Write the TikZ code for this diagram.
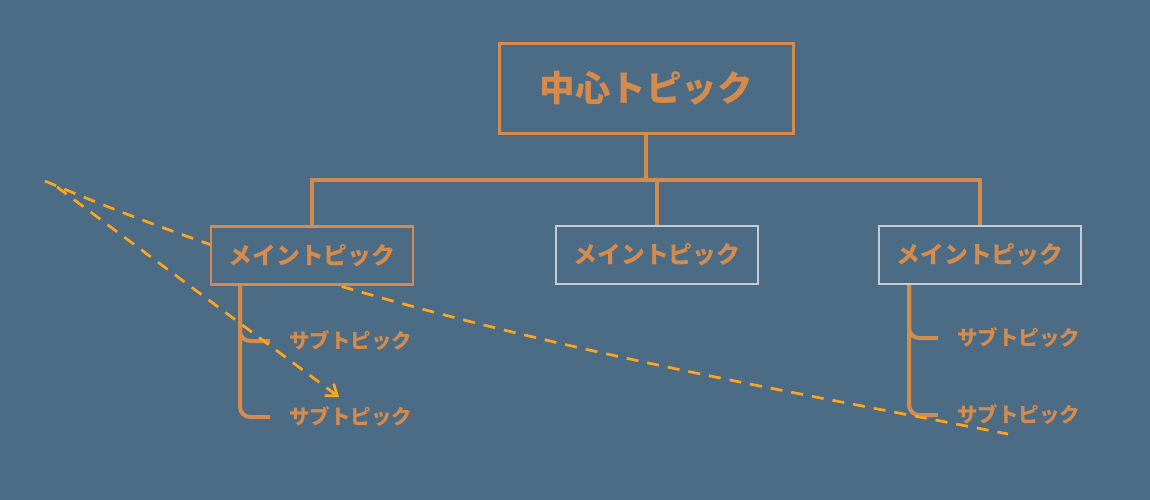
\documentclass[tikz,border=0pt]{standalone}
\usepackage{fontspec}
\newfontfamily\jpfont{Noto Sans CJK JP}
\usetikzlibrary{arrows.meta}

\begin{document}
\begin{tikzpicture}[x=1pt,y=-1pt]

  \definecolor{bgcol}{RGB}{76,107,133}
  \definecolor{topcol}{RGB}{213,139,76}
  \definecolor{dshcol}{RGB}{255,166,28}
  \definecolor{grycol}{RGB}{198,204,210}

 \useasboundingbox (0,0) rectangle (1150,500);
 \fill[bgcol] (0,0) rectangle (1150,500);

 \coordinate (p0) at (646,88.5);
 \coordinate (p1) at (312,255.5);
 \coordinate (p2) at (657,255);
 \coordinate (p3) at (980,255);
 \coordinate (hub) at (646,180);

 % free ends of the dashed lines
 \coordinate (d0) at (45,181);
 \coordinate (d1) at (1008,434);
 \coordinate (a0) at (57,187);
 \coordinate (a1) at (339,397);

 \tikzset{
      ctrstl/.style={draw=topcol,line width=3,fill=bgcol,text=topcol,
        minimum width=294,minimum height=89,
        font=\jpfont\bfseries\fontsize{35.5}{42}\selectfont},
      mainstl/.style={draw=grycol,line width=1.5,fill=bgcol,text=topcol,
        minimum width=202,minimum height=58,
        font=\jpfont\bfseries\fontsize{23.8}{28}\selectfont},
      substl/.style={anchor=west,inner sep=0,text=topcol,
        font=\jpfont\bfseries\fontsize{20.5}{24}\selectfont},
      trunk/.style={draw=topcol,line width=4.5},
      twig/.style={draw=topcol,line width=4,rounded corners=10},
      dshln/.style={draw=dshcol,line width=2.7,dash pattern=on 12 off 9},
    }

 \node[substl] (s11) at (289,341) {サブトピック};
 \node[substl] (s12) at (289,417) {サブトピック};
 \node[substl] (s31) at (957,338) {サブトピック};
 \node[substl] (s32) at (957,415) {サブトピック};

 \draw[twig] (240,285) |- ([xshift=-19]s11.west);
 \draw[twig] (240,285) |- ([xshift=-19]s12.west);
 \draw[twig] (909,284) |- ([xshift=-19]s31.west);
 \draw[twig] (909,284) |- ([xshift=-19]s32.west);

 \draw[dshln] (d0) .. controls (366,317.6) and (687,371.9) .. (d1);

 \node[ctrstl] (ctr) at (p0) {中心トピック};
 \node[mainstl,draw=topcol,line width=2.5] (mt1) at (p1) {メイントピック};
 \node[mainstl] (mt2) at (p2) {メイントピック};
 \node[mainstl] (mt3) at (p3) {メイントピック};

 \draw[trunk] (ctr.south) -- (hub);
 \draw[trunk] (mt1.north) |- (hub) -| (mt3.north);
 \draw[trunk] (mt2.north) -- (mt2.north |- hub);

 \draw[dshln,-{Straight Barb[length=10,width=15]}] (a0) -- (a1);
\end{tikzpicture}
\end{document}
